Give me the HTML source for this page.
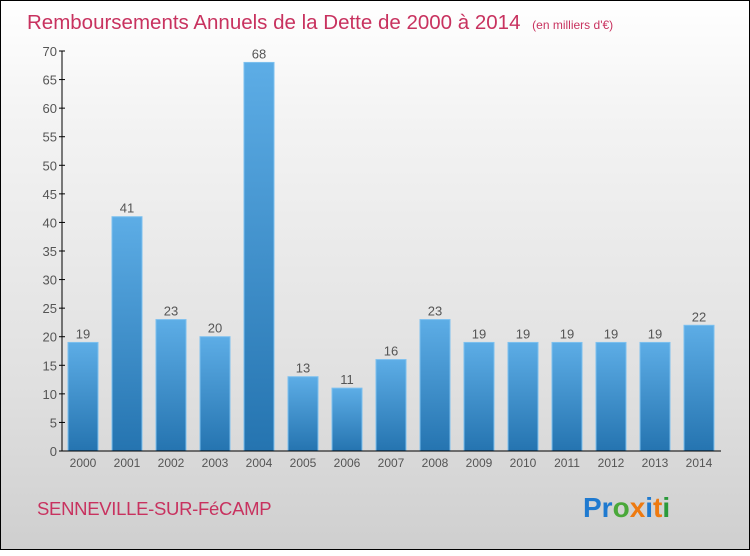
<!DOCTYPE html>
<html><head><meta charset="utf-8"><style>
body{margin:0;width:750px;height:550px;overflow:hidden}
#frame{position:absolute;left:0;top:0;width:748px;height:548px;border:1px solid #000;background:linear-gradient(#fff,#f4f4f4 20%,#e0e0e0 70%,#cfcfcf);font-family:"Liberation Sans",sans-serif}
</style></head><body>
<div id="frame">
<svg width="750" height="550">
<defs><linearGradient id="bg" x1="0" y1="0" x2="0" y2="1"><stop offset="0" stop-color="#5dade6"/><stop offset="1" stop-color="#2574b0"/></linearGradient></defs>
<text x="26" y="28" font-size="20.5" fill="#c8325f">Remboursements Annuels de la Dette de 2000 à 2014 <tspan font-size="12" dx="6">(en milliers d'€)</tspan></text>
<g id="plot"></g>
<text x="36" y="514" font-size="18.5" fill="#c8325f" letter-spacing="-0.3">SENNEVILLE-SUR-FéCAMP</text>
<text x="582" y="516" font-size="28" font-weight="bold"><tspan fill="#1f7ad0">Pr</tspan><tspan fill="#4aa83a">o</tspan><tspan fill="#ee7a10">x</tspan><tspan fill="#1f7ad0">i</tspan><tspan fill="#ee7a10">t</tspan><tspan fill="#2a9a3a">i</tspan></text>
</svg></div>
<script>
const years=["2000","2001","2002","2003","2004","2005","2006","2007","2008","2009","2010","2011","2012","2013","2014"];
const values=[19,41,23,20,68,13,11,16,23,19,19,19,19,19,22];
const yTicks=[0,5,10,15,20,25,30,35,40,45,50,55,60,65,70];
const ns="http://www.w3.org/2000/svg",g=document.getElementById('plot');
const x0=61,x1=720,y0=450,yMax=70,yTop=50;
const y=v=>y0-(y0-yTop)*v/yMax;
const step=44,bw=30,first=82;
const xc=i=>first+i*step;
function mk(t,a,txt){const e=document.createElementNS(ns,t);for(const k in a)e.setAttribute(k,a[k]);if(txt!==undefined)e.textContent=txt;g.appendChild(e);return e;}
yTicks.forEach(v=>{
 const t=mk('line',{x1:x0-3,x2:x0+3,y1:y(v),y2:y(v),stroke:'#000'});
 
 
 const l=mk('text',{x:x0-5,y:y(v)+5,'text-anchor':'end','font-size':13,fill:'#555'},v);
 
 
});
values.forEach((v,i)=>{
 const r=mk('rect',{x:xc(i)-bw/2,y:y(v),width:bw,height:y0-y(v),fill:'url(#bg)',stroke:'#7cc0ef','stroke-width':1});
 
 
 const l=mk('text',{x:xc(i),y:y(v)-4,'text-anchor':'middle','font-size':13,fill:'#555'},v);
 
 
 const xl=mk('text',{x:xc(i),y:y0+16,'text-anchor':'middle','font-size':12,fill:'#555'},years[i]);
 
 
});
const ya=mk('line',{x1:x0,x2:x0,y1:yTop,y2:y0,stroke:'#000'});


const xa=mk('line',{x1:x0,x2:x1,y1:y0,y2:y0,stroke:'#000'});


</script>
</body></html>
